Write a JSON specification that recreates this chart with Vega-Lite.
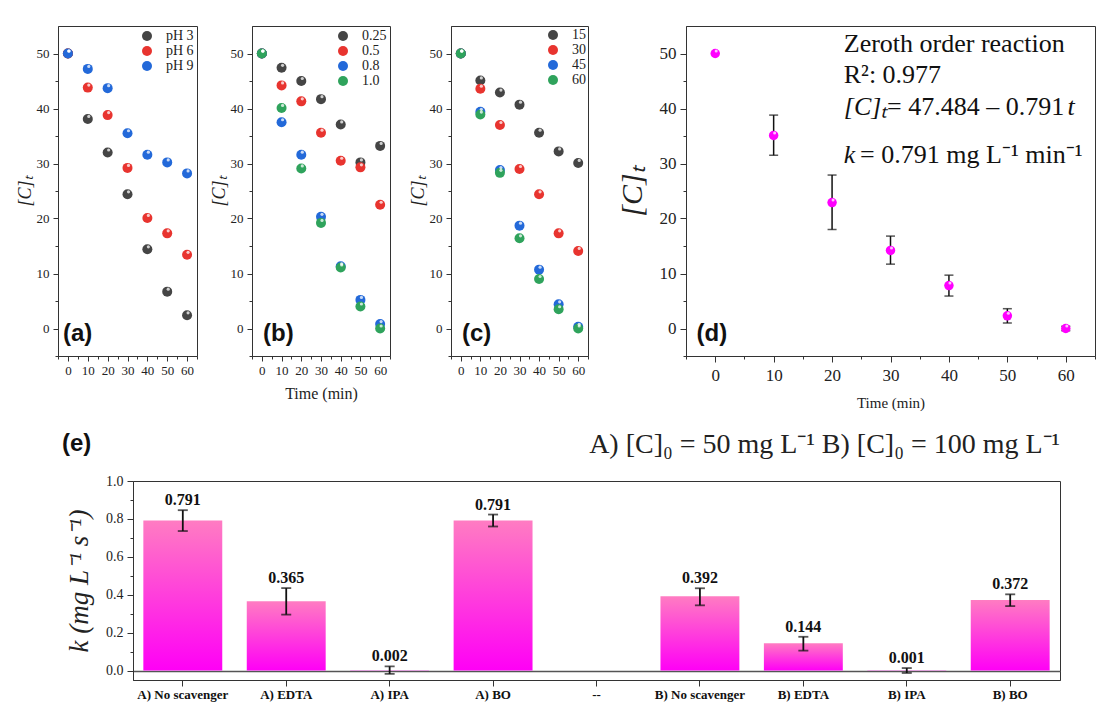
{
  "$schema": "https://vega.github.io/schema/vega-lite/v6.json",
  "background": "white",
  "padding": {"left": 15, "top": 25, "right": 0, "bottom": 0},
  "datasets": {
    "ph": [
      {"t": 0, "C": 50, "s": "pH 3"}, {"t": 10, "C": 38.1, "s": "pH 3"}, {"t": 20, "C": 32.0, "s": "pH 3"}, {"t": 30, "C": 24.4, "s": "pH 3"}, {"t": 40, "C": 14.4, "s": "pH 3"}, {"t": 50, "C": 6.7, "s": "pH 3"}, {"t": 60, "C": 2.4, "s": "pH 3"},
      {"t": 0, "C": 50, "s": "pH 6"}, {"t": 10, "C": 43.8, "s": "pH 6"}, {"t": 20, "C": 38.8, "s": "pH 6"}, {"t": 30, "C": 29.2, "s": "pH 6"}, {"t": 40, "C": 20.1, "s": "pH 6"}, {"t": 50, "C": 17.3, "s": "pH 6"}, {"t": 60, "C": 13.4, "s": "pH 6"},
      {"t": 0, "C": 50, "s": "pH 9"}, {"t": 10, "C": 47.2, "s": "pH 9"}, {"t": 20, "C": 43.7, "s": "pH 9"}, {"t": 30, "C": 35.5, "s": "pH 9"}, {"t": 40, "C": 31.6, "s": "pH 9"}, {"t": 50, "C": 30.2, "s": "pH 9"}, {"t": 60, "C": 28.2, "s": "pH 9"}
    ],
    "dose": [
      {"t": 0, "C": 50, "s": "0.25"}, {"t": 10, "C": 47.4, "s": "0.25"}, {"t": 20, "C": 45.0, "s": "0.25"}, {"t": 30, "C": 41.7, "s": "0.25"}, {"t": 40, "C": 37.1, "s": "0.25"}, {"t": 50, "C": 30.2, "s": "0.25"}, {"t": 60, "C": 33.2, "s": "0.25"},
      {"t": 0, "C": 50, "s": "0.5"}, {"t": 10, "C": 44.2, "s": "0.5"}, {"t": 20, "C": 41.3, "s": "0.5"}, {"t": 30, "C": 35.6, "s": "0.5"}, {"t": 40, "C": 30.5, "s": "0.5"}, {"t": 50, "C": 29.3, "s": "0.5"}, {"t": 60, "C": 22.5, "s": "0.5"},
      {"t": 0, "C": 50, "s": "0.8"}, {"t": 10, "C": 37.5, "s": "0.8"}, {"t": 20, "C": 31.6, "s": "0.8"}, {"t": 30, "C": 20.3, "s": "0.8"}, {"t": 40, "C": 11.3, "s": "0.8"}, {"t": 50, "C": 5.2, "s": "0.8"}, {"t": 60, "C": 0.8, "s": "0.8"},
      {"t": 0, "C": 50, "s": "1.0"}, {"t": 10, "C": 40.1, "s": "1.0"}, {"t": 20, "C": 29.1, "s": "1.0"}, {"t": 30, "C": 19.2, "s": "1.0"}, {"t": 40, "C": 11.1, "s": "1.0"}, {"t": 50, "C": 4.0, "s": "1.0"}, {"t": 60, "C": 0.0, "s": "1.0"}
    ],
    "h2o2": [
      {"t": 0, "C": 50, "s": "15"}, {"t": 10, "C": 45.1, "s": "15"}, {"t": 20, "C": 42.9, "s": "15"}, {"t": 30, "C": 40.7, "s": "15"}, {"t": 40, "C": 35.6, "s": "15"}, {"t": 50, "C": 32.2, "s": "15"}, {"t": 60, "C": 30.1, "s": "15"},
      {"t": 0, "C": 50, "s": "30"}, {"t": 10, "C": 43.6, "s": "30"}, {"t": 20, "C": 37.0, "s": "30"}, {"t": 30, "C": 29.0, "s": "30"}, {"t": 40, "C": 24.4, "s": "30"}, {"t": 50, "C": 17.3, "s": "30"}, {"t": 60, "C": 14.1, "s": "30"},
      {"t": 0, "C": 50, "s": "45"}, {"t": 10, "C": 39.4, "s": "45"}, {"t": 20, "C": 28.8, "s": "45"}, {"t": 30, "C": 18.7, "s": "45"}, {"t": 40, "C": 10.7, "s": "45"}, {"t": 50, "C": 4.4, "s": "45"}, {"t": 60, "C": 0.3, "s": "45"},
      {"t": 0, "C": 50, "s": "60"}, {"t": 10, "C": 38.9, "s": "60"}, {"t": 20, "C": 28.3, "s": "60"}, {"t": 30, "C": 16.4, "s": "60"}, {"t": 40, "C": 9.0, "s": "60"}, {"t": 50, "C": 3.5, "s": "60"}, {"t": 60, "C": 0.0, "s": "60"}
    ],
    "kin": [
      {"t": 0, "C": 50, "lo": 50, "hi": 50},
      {"t": 10, "C": 35.1, "lo": 31.5, "hi": 38.8},
      {"t": 20, "C": 22.9, "lo": 18.0, "hi": 27.9},
      {"t": 30, "C": 14.2, "lo": 11.7, "hi": 16.8},
      {"t": 40, "C": 7.8, "lo": 5.9, "hi": 9.7},
      {"t": 50, "C": 2.3, "lo": 1.0, "hi": 3.6},
      {"t": 60, "C": 0.0, "lo": -0.4, "hi": 0.4}
    ],
    "scav": [
      {"cat": "A) No scavenger", "k": 0.791, "lo": 0.736, "hi": 0.846},
      {"cat": "A) EDTA", "k": 0.365, "lo": 0.295, "hi": 0.435},
      {"cat": "A) IPA", "k": 0.002, "lo": -0.018, "hi": 0.022},
      {"cat": "A) BO", "k": 0.791, "lo": 0.760, "hi": 0.823},
      {"cat": "B) No scavenger", "k": 0.392, "lo": 0.344, "hi": 0.434},
      {"cat": "B) EDTA", "k": 0.144, "lo": 0.105, "hi": 0.178},
      {"cat": "B) IPA", "k": 0.001, "lo": -0.013, "hi": 0.013},
      {"cat": "B) BO", "k": 0.372, "lo": 0.340, "hi": 0.402}
    ]
  },
  "bounds": "flush",
  "spacing": 455,
  "resolve": {"scale": {"x": "independent", "y": "independent", "color": "independent"}},
  "vconcat": [
    {
      "bounds": "flush",
      "spacing": 0,
      "resolve": {"scale": {"x": "independent", "y": "independent", "color": "independent"}, "legend": {"color": "independent"}},
      "hconcat": [
        {
          "width": 139, "height": 330,
          "data": {"name": "ph"},
          "encoding": {
            "x": {"field": "t", "type": "quantitative", "scale": {"domain": [-5, 65], "nice": false, "zero": false},
              "axis": {"values": [-5,0,5,10,15,20,25,30,35,40,45,50,55,60,65], "labelExpr": "datum.value % 10 === 0 && datum.value >= 0 && datum.value <= 60 ? datum.label : ''", "tickSize": {"condition": {"test": "datum.value % 10 === 0", "value": 5}, "value": 3}, "labelFontSize": 13, "labelPadding": 3, "labelOverlap": false, "labelFlush": false, "title": null}},
            "y": {"field": "C", "type": "quantitative", "scale": {"domain": [-5, 55], "nice": false, "zero": false},
              "axis": {"values": [-5,0,5,10,15,20,25,30,35,40,45,50], "labelExpr": "datum.value % 10 === 0 && datum.value >= 0 ? datum.label : ''", "tickSize": {"condition": {"test": "datum.value % 10 === 0", "value": 5}, "value": 3}, "labelFontSize": 13, "labelPadding": 4, "labelOverlap": false, "title": "[C]ₜ", "titleFontStyle": "italic", "titleFontSize": 18, "titlePadding": 2}}
          },
          "layer": [
            {"mark": {"type": "circle", "size": 100, "opacity": 1},
             "encoding": {"color": {"field": "s", "type": "nominal", "sort": null, "scale": {"domain": ["pH 3", "pH 6", "pH 9"], "range": ["#454545", "#e8342f", "#2369d9"]},
               "legend": {"title": null, "orient": "top-right", "offset": 3, "labelFontSize": 14, "symbolType": "circle", "symbolSize": 100, "rowPadding": 1, "labelOffset": 12, "padding": 0}}}},
            {"mark": {"type": "circle", "size": 10, "color": "white", "opacity": 0.75, "xOffset": 1, "yOffset": -2.5}},
            {"data": {"values": [{"label": "(a)", "t": -2.5, "C": -1}]}, "mark": {"type": "text", "font": "Liberation Sans", "fontWeight": "bold", "fontSize": 24, "align": "left", "baseline": "middle", "color": "#111"},
             "encoding": {"text": {"field": "label"}}}
          ]
        },
        {"width": 55, "height": 330, "data": {"values": []}, "mark": "point", "encoding": {}, "view": {"stroke": null}},
        {
          "width": 138, "height": 330,
          "data": {"name": "dose"},
          "encoding": {
            "x": {"field": "t", "type": "quantitative", "scale": {"domain": [-5, 65], "nice": false, "zero": false},
              "axis": {"values": [-5,0,5,10,15,20,25,30,35,40,45,50,55,60,65], "labelExpr": "datum.value % 10 === 0 && datum.value >= 0 && datum.value <= 60 ? datum.label : ''", "tickSize": {"condition": {"test": "datum.value % 10 === 0", "value": 5}, "value": 3}, "labelFontSize": 13, "labelPadding": 3, "labelOverlap": false, "labelFlush": false, "title": "Time (min)", "titleFontSize": 16, "titlePadding": 8}},
            "y": {"field": "C", "type": "quantitative", "scale": {"domain": [-5, 55], "nice": false, "zero": false},
              "axis": {"values": [-5,0,5,10,15,20,25,30,35,40,45,50], "labelExpr": "datum.value % 10 === 0 && datum.value >= 0 ? datum.label : ''", "tickSize": {"condition": {"test": "datum.value % 10 === 0", "value": 5}, "value": 3}, "labelFontSize": 13, "labelPadding": 4, "labelOverlap": false, "title": "[C]ₜ", "titleFontStyle": "italic", "titleFontSize": 18, "titlePadding": 2}}
          },
          "layer": [
            {"mark": {"type": "circle", "size": 100, "opacity": 1},
             "encoding": {"color": {"field": "s", "type": "nominal", "sort": null, "scale": {"domain": ["0.25", "0.5", "0.8", "1.0"], "range": ["#454545", "#e8342f", "#2369d9", "#2fa35c"]},
               "legend": {"title": null, "orient": "top-right", "offset": 3, "labelFontSize": 14, "symbolType": "circle", "symbolSize": 100, "rowPadding": 1, "labelOffset": 12, "padding": 0}}}},
            {"mark": {"type": "circle", "size": 10, "color": "white", "opacity": 0.75, "xOffset": 1, "yOffset": -2.5}},
            {"data": {"values": [{"label": "(b)", "t": 0.6, "C": -1}]}, "mark": {"type": "text", "font": "Liberation Sans", "fontWeight": "bold", "fontSize": 24, "align": "left", "baseline": "middle", "color": "#111"},
             "encoding": {"text": {"field": "label"}}}
          ]
        },
        {"width": 61, "height": 330, "data": {"values": []}, "mark": "point", "encoding": {}, "view": {"stroke": null}},
        {
          "width": 137, "height": 330,
          "data": {"name": "h2o2"},
          "encoding": {
            "x": {"field": "t", "type": "quantitative", "scale": {"domain": [-5, 65], "nice": false, "zero": false},
              "axis": {"values": [-5,0,5,10,15,20,25,30,35,40,45,50,55,60,65], "labelExpr": "datum.value % 10 === 0 && datum.value >= 0 && datum.value <= 60 ? datum.label : ''", "tickSize": {"condition": {"test": "datum.value % 10 === 0", "value": 5}, "value": 3}, "labelFontSize": 13, "labelPadding": 3, "labelOverlap": false, "labelFlush": false, "title": null}},
            "y": {"field": "C", "type": "quantitative", "scale": {"domain": [-5, 55], "nice": false, "zero": false},
              "axis": {"values": [-5,0,5,10,15,20,25,30,35,40,45,50], "labelExpr": "datum.value % 10 === 0 && datum.value >= 0 ? datum.label : ''", "tickSize": {"condition": {"test": "datum.value % 10 === 0", "value": 5}, "value": 3}, "labelFontSize": 13, "labelPadding": 4, "labelOverlap": false, "title": "[C]ₜ", "titleFontStyle": "italic", "titleFontSize": 18, "titlePadding": 2}}
          },
          "layer": [
            {"mark": {"type": "circle", "size": 100, "opacity": 1},
             "encoding": {"color": {"field": "s", "type": "nominal", "sort": null, "scale": {"domain": ["15", "30", "45", "60"], "range": ["#454545", "#e8342f", "#2369d9", "#2fa35c"]},
               "legend": {"title": null, "orient": "top-right", "offset": 2, "labelFontSize": 14, "symbolType": "circle", "symbolSize": 100, "rowPadding": 1, "labelOffset": 12, "padding": 0}}}},
            {"mark": {"type": "circle", "size": 10, "color": "white", "opacity": 0.75, "xOffset": 1, "yOffset": -2.5}},
            {"data": {"values": [{"label": "(c)", "t": 0.6, "C": -1}]}, "mark": {"type": "text", "font": "Liberation Sans", "fontWeight": "bold", "fontSize": 24, "align": "left", "baseline": "middle", "color": "#111"},
             "encoding": {"text": {"field": "label"}}}
          ]
        },
        {"width": 98, "height": 330, "data": {"values": []}, "mark": "point", "encoding": {}, "view": {"stroke": null}},
        {
          "width": 409, "height": 330,
          "data": {"name": "kin"},
          "encoding": {
            "x": {"field": "t", "type": "quantitative", "scale": {"domain": [-5, 65], "nice": false, "zero": false},
              "axis": {"values": [-5,0,5,10,15,20,25,30,35,40,45,50,55,60,65], "labelExpr": "datum.value % 10 === 0 && datum.value >= 0 && datum.value <= 60 ? datum.label : ''", "tickSize": {"condition": {"test": "datum.value % 10 === 0", "value": 6}, "value": 3}, "labelFontSize": 17, "labelPadding": 5, "labelOverlap": false, "labelFlush": false, "title": "Time (min)", "titleFontSize": 15, "titlePadding": 12}},
            "y": {"field": "C", "type": "quantitative", "scale": {"domain": [-5, 55], "nice": false, "zero": false},
              "axis": {"values": [-5,0,5,10,15,20,25,30,35,40,45,50], "labelExpr": "datum.value % 10 === 0 && datum.value >= 0 ? datum.label : ''", "tickSize": {"condition": {"test": "datum.value % 10 === 0", "value": 6}, "value": 3}, "labelFontSize": 17, "labelPadding": 4, "labelOverlap": false, "title": "[C]ₜ", "titleFontStyle": "italic", "titleFontSize": 30, "titlePadding": 12}}
          },
          "layer": [
            {"transform": [{"filter": "datum.t > 0"}],
             "mark": {"type": "errorbar", "ticks": {"size": 9, "thickness": 1.5, "color": "#111"}, "rule": {"strokeWidth": 1.5, "color": "#111"}},
             "encoding": {
               "y": {"field": "lo", "type": "quantitative", "scale": {"domain": [-5, 55], "nice": false, "zero": false},
                 "axis": {"values": [-5,0,5,10,15,20,25,30,35,40,45,50], "labelExpr": "datum.value % 10 === 0 && datum.value >= 0 ? datum.label : ''", "tickSize": {"condition": {"test": "datum.value % 10 === 0", "value": 6}, "value": 3}, "labelFontSize": 17, "labelPadding": 4, "labelOverlap": false, "title": "[C]ₜ", "titleFontStyle": "italic", "titleFontSize": 30, "titlePadding": 12}},
               "y2": {"field": "hi"}}},
            {"mark": {"type": "circle", "size": 90, "color": "#ff00ff", "opacity": 1}},
            {"mark": {"type": "circle", "size": 9, "color": "white", "opacity": 0.75, "xOffset": 1, "yOffset": -2.5}},
            {"data": {"values": [
               {"label": "Zeroth order reaction", "t": 22, "C": 50.2},
               {"label": "R²: 0.977", "t": 22, "C": 44.7},
               {"label": "= 47.484 – 0.791", "t": 29.4, "C": 38.9},
               {"label": "= 0.791 mg L⁻¹ min⁻¹", "t": 24.8, "C": 30.1}
             ]},
             "mark": {"type": "text", "font": "Liberation Serif", "fontSize": 26, "align": "left", "baseline": "alphabetic", "color": "#111"},
             "encoding": {"text": {"field": "label"}}},
            {"data": {"values": [
               {"label": "[C]ₜ", "t": 22, "C": 38.9},
               {"label": "t", "t": 60.3, "C": 38.9},
               {"label": "k", "t": 22, "C": 30.1}
             ]},
             "mark": {"type": "text", "font": "Liberation Serif", "fontStyle": "italic", "fontSize": 26, "align": "left", "baseline": "alphabetic", "color": "#111"},
             "encoding": {"text": {"field": "label"}}},
            {"data": {"values": [{"label": "(d)", "t": -3.2, "C": -1}]}, "mark": {"type": "text", "font": "Liberation Sans", "fontWeight": "bold", "fontSize": 24, "align": "left", "baseline": "middle", "color": "#111"},
             "encoding": {"text": {"field": "label"}}}
          ]
        }
      ]
    },
    {
      "bounds": "flush",
      "spacing": 0,
      "hconcat": [
        {"width": 75, "height": 199, "data": {"values": []}, "mark": "point", "encoding": {}, "view": {"stroke": null},
         "title": {"text": "(e)", "anchor": "start", "frame": "group", "font": "Liberation Sans", "fontWeight": "bold", "fontSize": 24, "color": "#111", "baseline": "alphabetic", "offset": 6, "dx": 4}},
        {
          "width": 927, "height": 199,
          "data": {"name": "scav"},
          "title": {"text": "A) [C]₀ = 50 mg L⁻¹ B) [C]₀ = 100 mg L⁻¹", "anchor": "end", "frame": "group", "font": "Liberation Serif", "fontSize": 28, "fontWeight": "normal", "color": "#222", "baseline": "alphabetic", "offset": -7},
          "encoding": {
            "x": {"field": "cat", "type": "nominal", "sort": null,
              "scale": {"domain": ["A) No scavenger", "A) EDTA", "A) IPA", "A) BO", "--", "B) No scavenger", "B) EDTA", "B) IPA", "B) BO"], "paddingInner": 0.237, "paddingOuter": 0.1},
              "axis": {"title": null, "labelAngle": 0, "labelFont": "Liberation Serif", "labelFontWeight": "bold", "labelFontSize": 13, "labelColor": "#111", "tickSize": 6, "labelPadding": 2}},
            "y": {"field": "k", "type": "quantitative", "scale": {"domain": [-0.05, 1.0], "nice": false},
              "axis": {"values": [0, 0.1, 0.2, 0.3, 0.4, 0.5, 0.6, 0.7, 0.8, 0.9, 1.0], "labelExpr": "round(datum.value * 10) % 2 === 0 ? format(datum.value, '.1f') : ''", "tickSize": {"condition": {"test": "round(datum.value * 10) % 2 === 0", "value": 6}, "value": 3}, "labelFontSize": 14, "labelPadding": 4, "labelOverlap": false, "title": "k (mg L⁻¹ s⁻¹)", "titleFontStyle": "italic", "titleFontSize": 27, "titlePadding": 12,
                "grid": true, "gridColor": "#555", "gridWidth": 1.5, "gridOpacity": {"condition": {"test": "datum.value === 0", "value": 1}, "value": 0}}}
          },
          "layer": [
            {"mark": {"type": "bar", "color": {"gradient": "linear", "x1": 0, "y1": 0, "x2": 0, "y2": 1, "stops": [{"offset": 0, "color": "#ff7cc2"}, {"offset": 1, "color": "#ff00f6"}]}}},
            {"mark": {"type": "errorbar", "ticks": {"size": 10, "thickness": 1.8, "color": "#111"}, "rule": {"strokeWidth": 1.8, "color": "#111"}},
             "encoding": {
               "y": {"field": "lo", "type": "quantitative", "scale": {"domain": [-0.05, 1.0], "nice": false},
                 "axis": {"values": [0, 0.1, 0.2, 0.3, 0.4, 0.5, 0.6, 0.7, 0.8, 0.9, 1.0], "labelExpr": "round(datum.value * 10) % 2 === 0 ? format(datum.value, '.1f') : ''", "tickSize": {"condition": {"test": "round(datum.value * 10) % 2 === 0", "value": 6}, "value": 3}, "labelFontSize": 14, "labelPadding": 4, "labelOverlap": false, "title": "k (mg L⁻¹ s⁻¹)", "titleFontStyle": "italic", "titleFontSize": 27, "titlePadding": 12,
                   "grid": true, "gridColor": "#555", "gridWidth": 1.5, "gridOpacity": {"condition": {"test": "datum.value === 0", "value": 1}, "value": 0}}},
               "y2": {"field": "hi"}}},
            {"mark": {"type": "text", "font": "Liberation Serif", "fontWeight": "bold", "fontSize": 16, "baseline": "alphabetic", "dy": -5, "color": "#111"},
             "encoding": {
               "y": {"field": "hi", "type": "quantitative", "scale": {"domain": [-0.05, 1.0], "nice": false},
                 "axis": {"values": [0, 0.1, 0.2, 0.3, 0.4, 0.5, 0.6, 0.7, 0.8, 0.9, 1.0], "labelExpr": "round(datum.value * 10) % 2 === 0 ? format(datum.value, '.1f') : ''", "tickSize": {"condition": {"test": "round(datum.value * 10) % 2 === 0", "value": 6}, "value": 3}, "labelFontSize": 14, "labelPadding": 4, "labelOverlap": false, "title": "k (mg L⁻¹ s⁻¹)", "titleFontStyle": "italic", "titleFontSize": 27, "titlePadding": 12,
                   "grid": true, "gridColor": "#555", "gridWidth": 1.5, "gridOpacity": {"condition": {"test": "datum.value === 0", "value": 1}, "value": 0}}},
               "text": {"field": "k", "type": "quantitative", "format": ".3f"}}}
          ]
        }
      ]
    }
  ],
  "config": {
    "view": {"stroke": "#333", "strokeWidth": 1},
    "axis": {"grid": false, "domainColor": "#333", "tickColor": "#333", "labelColor": "#222", "titleColor": "#222", "labelFont": "Liberation Serif", "titleFont": "Liberation Serif", "titleFontWeight": "normal", "labelOverlap": false, "labelFlush": false, "domainWidth": 1, "tickWidth": 1},
    "legend": {"labelFont": "Liberation Serif", "labelColor": "#222"},
    "title": {"font": "Liberation Serif", "color": "#222", "fontWeight": "normal"}
  }
}
